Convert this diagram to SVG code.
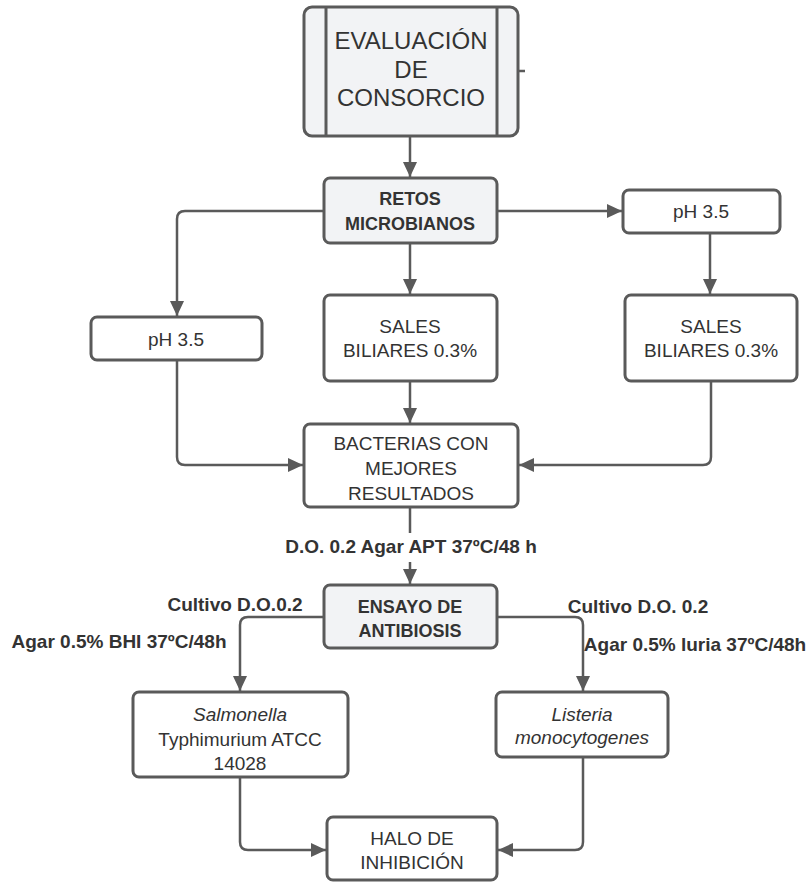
<svg xmlns="http://www.w3.org/2000/svg" width="810" height="886" viewBox="0 0 810 886">
<style>
.box{fill:#ffffff;stroke:#5a5a5a;stroke-width:3}
.gbox{fill:#f2f3f5;stroke:#5a5a5a;stroke-width:3}
.t{font-family:"Liberation Sans",Arial,sans-serif;font-size:19px;fill:#333333;text-anchor:middle}
.tb{font-family:"Liberation Sans",Arial,sans-serif;font-size:18px;font-weight:bold;fill:#333333;text-anchor:middle}
.lb{font-family:"Liberation Sans",Arial,sans-serif;font-size:19px;font-weight:bold;fill:#333333;text-anchor:middle}
.big{font-family:"Liberation Sans",Arial,sans-serif;font-size:24px;fill:#333333;text-anchor:middle}
.c{fill:none;stroke:#5a5a5a;stroke-width:2.5}
</style>
<defs>
<marker id="arr" markerUnits="userSpaceOnUse" markerWidth="16" markerHeight="14" refX="15" refY="7" orient="auto">
<path d="M0,0 L15,7 L0,14 Z" fill="#5a5a5a"/>
</marker>
</defs>
<rect width="810" height="886" fill="#ffffff"/>
<g id="connectors">
<path class="c" d="M410 136 V177" marker-end="url(#arr)"/>
<path class="c" d="M324 211 H185 Q177 211 177 219 V316" marker-end="url(#arr)"/>
<path class="c" d="M497 211 H622" marker-end="url(#arr)"/>
<path class="c" d="M410 243 V294" marker-end="url(#arr)"/>
<path class="c" d="M710 233 V294" marker-end="url(#arr)"/>
<path class="c" d="M177 360 V457 Q177 465 185 465 H303" marker-end="url(#arr)"/>
<path class="c" d="M410 381 V423" marker-end="url(#arr)"/>
<path class="c" d="M711 381 V457 Q711 465 703 465 H519" marker-end="url(#arr)"/>
<path class="c" d="M410 507 V533"/>
<path class="c" d="M410 562 V584" marker-end="url(#arr)"/>
<path class="c" d="M324 617 H248 Q240 617 240 625 V691" marker-end="url(#arr)"/>
<path class="c" d="M497 617 H575 Q583 617 583 625 V691" marker-end="url(#arr)"/>
<path class="c" d="M240 777 V842 Q240 850 248 850 H326" marker-end="url(#arr)"/>
<path class="c" d="M583 757 V842 Q583 850 575 850 H498" marker-end="url(#arr)"/>
<path class="c" d="M518 71 H525"/>
</g>
<g id="labels">
<text class="lb" x="411" y="553">D.O. 0.2 Agar APT 37ºC/48 h</text>
<text class="lb" x="235" y="611">Cultivo D.O.0.2</text>
<text class="lb" x="119" y="648">Agar 0.5% BHI 37ºC/48h</text>
<text class="lb" x="638" y="613">Cultivo D.O. 0.2</text>
<text class="lb" x="695" y="651">Agar 0.5% luria 37ºC/48h</text>
</g>
<g id="evaluacion">
<rect class="gbox" x="304" y="7" width="214" height="129" rx="8"/>
<line x1="326" y1="7" x2="326" y2="136" stroke="#5a5a5a" stroke-width="3"/>
<line x1="497" y1="7" x2="497" y2="136" stroke="#5a5a5a" stroke-width="3"/>
<text class="big" x="411" y="49">EVALUACIÓN</text>
<text class="big" x="411" y="78">DE</text>
<text class="big" x="411" y="106">CONSORCIO</text>
</g>
<g id="retos">
<rect class="gbox" x="324" y="178" width="173" height="65" rx="6"/>
<text class="tb" x="410" y="205">RETOS</text>
<text class="tb" x="410" y="230">MICROBIANOS</text>
</g>
<g id="ph-right">
<rect class="box" x="623" y="190" width="157" height="43" rx="6"/>
<text class="t" x="701" y="218">pH 3.5</text>
</g>
<g id="ph-left">
<rect class="box" x="91" y="317" width="171" height="43" rx="6"/>
<text class="t" x="176" y="346">pH 3.5</text>
</g>
<g id="sales-mid">
<rect class="box" x="324" y="295" width="173" height="86" rx="6"/>
<text class="t" x="410" y="333">SALES</text>
<text class="t" x="410" y="357">BILIARES 0.3%</text>
</g>
<g id="sales-right">
<rect class="box" x="625" y="295" width="172" height="86" rx="6"/>
<text class="t" x="711" y="333">SALES</text>
<text class="t" x="711" y="357">BILIARES 0.3%</text>
</g>
<g id="bacterias">
<rect class="box" x="304" y="424" width="214" height="83" rx="6"/>
<text class="t" x="411" y="450">BACTERIAS CON</text>
<text class="t" x="411" y="475">MEJORES</text>
<text class="t" x="411" y="500">RESULTADOS</text>
</g>
<g id="ensayo">
<rect class="gbox" x="324" y="585" width="173" height="63" rx="6"/>
<text class="tb" x="410" y="613">ENSAYO DE</text>
<text class="tb" x="410" y="637">ANTIBIOSIS</text>
</g>
<g id="salmonella">
<rect class="box" x="133" y="692" width="215" height="85" rx="6"/>
<text class="t" x="240" y="721" font-style="italic">Salmonella</text>
<text class="t" x="240" y="746">Typhimurium ATCC</text>
<text class="t" x="240" y="770">14028</text>
</g>
<g id="listeria">
<rect class="box" x="496" y="692" width="172" height="65" rx="6"/>
<text class="t" x="582" y="721" font-style="italic">Listeria</text>
<text class="t" x="582" y="744" font-style="italic">monocytogenes</text>
</g>
<g id="halo">
<rect class="box" x="327" y="817" width="170" height="63" rx="6"/>
<text class="t" x="412" y="845">HALO DE</text>
<text class="t" x="412" y="869">INHIBICIÓN</text>
</g>
</svg>
